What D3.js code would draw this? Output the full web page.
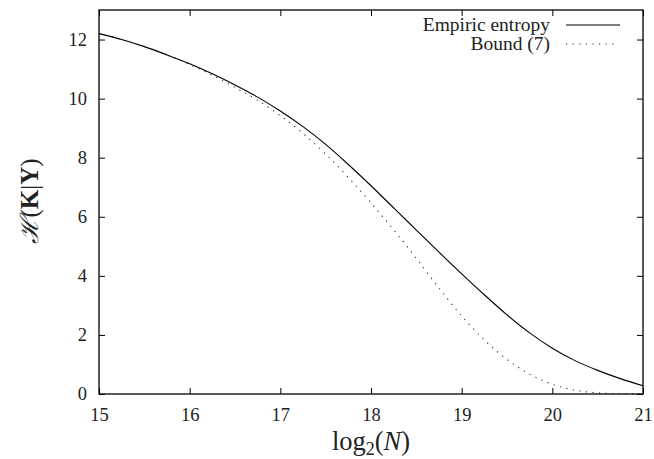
<!DOCTYPE html>
<html><head><meta charset="utf-8">
<script src="https://cdn.jsdelivr.net/npm/d3@7"></script>
<style>
body{margin:0;background:#fff;}
.domain{display:none;}
</style></head>
<body><svg id="c" width="654" height="459"></svg>
<script>
const xValues = [15,15.25,15.5,15.75,16,16.25,16.5,16.75,17,17.25,17.5,17.75,18,18.25,18.5,18.75,19,19.25,19.5,19.75,20,20.25,20.5,20.75,21];
const empiric = [12.20,12.00,11.76,11.48,11.18,10.84,10.46,10.05,9.58,9.05,8.45,7.77,7.05,6.30,5.55,4.80,4.07,3.36,2.68,2.07,1.55,1.13,0.80,0.52,0.28];
const bound   = [12.20,12.00,11.76,11.48,11.16,10.79,10.38,9.94,9.42,8.82,8.12,7.33,6.47,5.56,4.59,3.59,2.64,1.83,1.17,0.67,0.33,0.13,0.04,0.01,0.00];
const xTicks = [15,16,17,18,19,20,21];
const yTicks = [0,2,4,6,8,10,12];
const seriesNames = ["Empiric entropy","Bound (7)"];

const SERIF = "'Liberation Serif', 'DejaVu Serif', serif";
const svg = d3.select("#c");
const L=99, R=643, T=10, B=394;
const x = d3.scaleLinear().domain([15,21]).range([L,R]);
const y = d3.scaleLinear().domain([0,13]).range([B,T]);

const tick = 6;
svg.append("g").attr("transform",`translate(0,${B})`)
  .call(d3.axisBottom(x).tickValues(xTicks).tickSize(-tick).tickPadding(14).tickFormat(d3.format("d")))
  .call(g=>g.selectAll("text").attr("dy","0.71em"))
  .call(g=>g.selectAll("line").attr("stroke","#000"));
svg.append("g").attr("transform",`translate(0,${T})`)
  .call(d3.axisTop(x).tickValues(xTicks).tickSize(-tick).tickFormat(""))
  .call(g=>g.selectAll("line").attr("stroke","#000"));
svg.append("g").attr("transform",`translate(${L},0)`)
  .call(d3.axisLeft(y).tickValues(yTicks).tickSize(-tick).tickPadding(12).tickFormat(d3.format("d")))
  .call(g=>g.selectAll("line").attr("stroke","#000"));
svg.append("g").attr("transform",`translate(${R},0)`)
  .call(d3.axisRight(y).tickValues(yTicks).tickSize(-tick).tickFormat(""))
  .call(g=>g.selectAll("line").attr("stroke","#000"));
svg.selectAll(".tick text").style("font-family",SERIF).style("font-size","18.5px").attr("fill","#222");

const line = d3.line().x((d,i)=>x(xValues[i])).y(d=>y(d)).curve(d3.curveMonotoneX);
svg.append("path").datum(bound).attr("d",line).attr("fill","none")
  .attr("stroke","#333").attr("stroke-width",1.1).attr("stroke-dasharray","1.2,5.4");
svg.append("path").datum(empiric).attr("d",line).attr("fill","none")
  .attr("stroke","#000").attr("stroke-width",1.1);

svg.append("rect").attr("x",L).attr("y",T).attr("width",R-L).attr("height",B-T)
  .attr("fill","none").attr("stroke","#000").attr("stroke-width",1.3);

// legend
const lg = svg.append("g");
lg.append("text").attr("x",550).attr("y",31).attr("text-anchor","end").style("font-family",SERIF).style("font-size","19.5px").attr("fill","#222").text(seriesNames[0]);
lg.append("line").attr("x1",566).attr("x2",620).attr("y1",25).attr("y2",25).attr("stroke","#000").attr("stroke-width",1.1);
lg.append("text").attr("x",550).attr("y",50).attr("text-anchor","end").style("font-family",SERIF).style("font-size","19.5px").attr("fill","#222").text(seriesNames[1]);
lg.append("line").attr("x1",566).attr("x2",614).attr("y1",44).attr("y2",44).attr("stroke","#333").attr("stroke-width",1.1).attr("stroke-dasharray","1.2,5.4");

// axis titles
const xt = svg.append("text").attr("x",371).attr("y",450).attr("text-anchor","middle").style("font-family",SERIF).style("font-size","26.5px").attr("fill","#222");
xt.append("tspan").text("log");
xt.append("tspan").style("font-size","18px").attr("dy",5).text("2");
xt.append("tspan").attr("dy",-5).text("(");
xt.append("tspan").style("font-style","italic").text("N");
xt.append("tspan").text(")");

const yt = svg.append("text").attr("transform","translate(38,201) rotate(-90)").attr("text-anchor","middle").style("font-family",SERIF).style("font-size","25px").attr("fill","#222");
yt.append("tspan").style("font-family","'DejaVu Serif', serif").style("font-style","italic").text("ℋ");
yt.append("tspan").text("(");
yt.append("tspan").style("font-weight","bold").text("K");
yt.append("tspan").text("|");
yt.append("tspan").style("font-weight","bold").text("Y");
yt.append("tspan").text(")");
</script></body></html>
